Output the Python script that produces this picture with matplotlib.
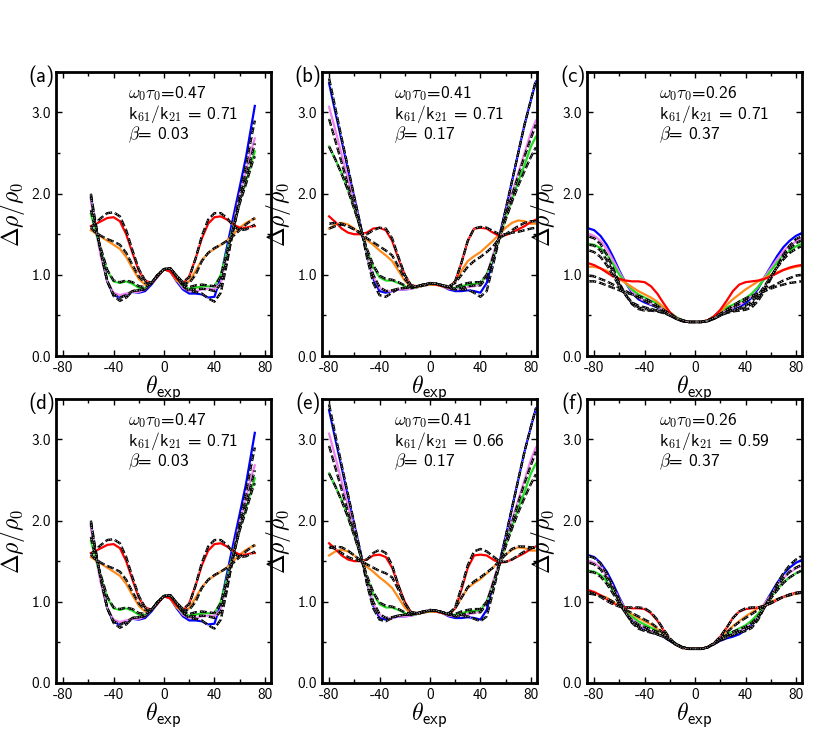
import matplotlib
matplotlib.use("Agg")
import matplotlib.pyplot as plt
from matplotlib.ticker import MultipleLocator

plt.rcParams["font.family"] = ["cmss10", "DejaVu Sans"]
plt.rcParams["mathtext.fontset"] = "cm"
plt.rcParams["axes.unicode_minus"] = False
plt.rcParams["axes.formatter.use_mathtext"] = False

# angle grids
th_a = [-58, -55, -50, -45, -40, -35, -30, -25, -20, -15, -10, -5, 0, 5, 10, 15, 20,
        25, 30, 35, 40, 45, 50, 55, 60, 65, 70, 72]
th_b = [-80, -75, -70, -65, -60, -55, -50, -45, -40, -35, -30, -25, -20, -15, -10, -5,
        0, 5, 10, 15, 20, 25, 30, 35, 40, 45, 50, 55, 60, 65, 70, 75, 80, 84]
th_c = [-84, -80, -75, -70, -65, -60, -55, -50, -45, -40, -35, -30, -25, -20, -15, -10,
        -5, 0, 5, 10, 15, 20, 25, 30, 35, 40, 45, 50, 55, 60, 65, 70, 75, 80, 84]

# panel (a) / (d)
a_blue = [1.95, 1.65, 1.25, 0.92, 0.75, 0.72, 0.76, 0.79, 0.78, 0.80, 0.88, 0.98, 1.07, 1.04,
          0.92, 0.82, 0.77, 0.77, 0.76, 0.72, 0.73, 0.98, 1.35, 1.72, 2.08, 2.45, 2.90, 3.08]
a_violet = [1.93, 1.62, 1.22, 0.92, 0.78, 0.75, 0.77, 0.79, 0.79, 0.82, 0.90, 0.99, 1.07, 1.05,
            0.94, 0.84, 0.80, 0.80, 0.82, 0.83, 0.82, 0.90, 1.25, 1.62, 1.98, 2.28, 2.58, 2.68]
a_green = [1.75, 1.58, 1.30, 1.05, 0.92, 0.90, 0.92, 0.89, 0.84, 0.84, 0.90, 1.00, 1.07, 1.05,
           0.95, 0.86, 0.83, 0.84, 0.86, 0.86, 0.86, 1.00, 1.30, 1.60, 1.90, 2.15, 2.42, 2.52]
a_orange = [1.55, 1.52, 1.47, 1.42, 1.37, 1.32, 1.22, 1.08, 0.95, 0.88, 0.90, 0.99, 1.07, 1.04,
            0.93, 0.88, 0.92, 1.05, 1.18, 1.27, 1.32, 1.37, 1.42, 1.50, 1.58, 1.64, 1.68, 1.69]
a_red = [1.60, 1.62, 1.66, 1.70, 1.71, 1.66, 1.50, 1.27, 1.05, 0.93, 0.90, 0.98, 1.07, 1.04,
         0.95, 0.90, 0.98, 1.20, 1.45, 1.63, 1.71, 1.72, 1.68, 1.62, 1.58, 1.58, 1.60, 1.60]
a_blue_fit = [2.00, 1.70, 1.28, 0.92, 0.74, 0.68, 0.72, 0.80, 0.81, 0.82, 0.90, 1.00, 1.07, 1.08,
              0.98, 0.86, 0.80, 0.79, 0.77, 0.71, 0.67, 0.78, 1.15, 1.58, 1.98, 2.35, 2.75, 2.90]
a_violet_fit = [1.98, 1.68, 1.27, 0.92, 0.76, 0.72, 0.75, 0.80, 0.81, 0.83, 0.90, 1.00, 1.07, 1.08,
                0.98, 0.87, 0.82, 0.82, 0.83, 0.82, 0.80, 0.88, 1.20, 1.55, 1.90, 2.20, 2.50, 2.62]
a_green_fit = [1.80, 1.60, 1.32, 1.06, 0.93, 0.91, 0.93, 0.91, 0.86, 0.85, 0.90, 1.00, 1.07, 1.08,
               0.99, 0.89, 0.85, 0.87, 0.88, 0.87, 0.86, 0.98, 1.28, 1.58, 1.88, 2.12, 2.38, 2.46]
a_orange_fit = [1.58, 1.53, 1.48, 1.44, 1.41, 1.37, 1.27, 1.12, 0.98, 0.90, 0.90, 0.99, 1.07, 1.08,
                0.98, 0.90, 0.90, 1.00, 1.17, 1.27, 1.33, 1.37, 1.42, 1.48, 1.55, 1.62, 1.68, 1.70]
a_red_fit = [1.58, 1.63, 1.70, 1.76, 1.77, 1.72, 1.55, 1.30, 1.07, 0.93, 0.90, 0.99, 1.07, 1.08,
             0.99, 0.91, 0.97, 1.20, 1.48, 1.68, 1.76, 1.76, 1.70, 1.60, 1.55, 1.56, 1.60, 1.62]

# panel (b) / (e) measured curves
b_blue = [3.36, 3.00, 2.65, 2.30, 1.95, 1.60, 1.25, 0.95, 0.80, 0.78, 0.80, 0.82, 0.82, 0.83, 0.85, 0.87, 0.88,
          0.88, 0.86, 0.82, 0.80, 0.80, 0.81, 0.80, 0.78, 0.90, 1.20, 1.48, 1.80, 2.15, 2.50, 2.85, 3.15, 3.38]
b_violet = [3.07, 2.78, 2.48, 2.18, 1.88, 1.58, 1.27, 0.98, 0.84, 0.80, 0.80, 0.82, 0.82, 0.83, 0.85, 0.87, 0.88,
            0.88, 0.86, 0.83, 0.82, 0.83, 0.85, 0.86, 0.88, 1.00, 1.25, 1.48, 1.75, 2.00, 2.25, 2.50, 2.75, 2.90]
b_green = [2.58, 2.42, 2.25, 2.05, 1.82, 1.57, 1.30, 1.10, 0.97, 0.93, 0.93, 0.90, 0.86, 0.84, 0.85, 0.87, 0.88,
           0.88, 0.86, 0.84, 0.84, 0.86, 0.88, 0.89, 0.90, 1.00, 1.20, 1.45, 1.70, 1.92, 2.15, 2.35, 2.58, 2.70]
b_orange = [1.57, 1.62, 1.64, 1.62, 1.57, 1.50, 1.43, 1.37, 1.30, 1.24, 1.17, 1.05, 0.93, 0.85, 0.85, 0.87, 0.88,
            0.88, 0.86, 0.85, 0.92, 1.05, 1.17, 1.23, 1.28, 1.35, 1.42, 1.50, 1.58, 1.64, 1.67, 1.66, 1.63, 1.63]
b_red = [1.72, 1.65, 1.57, 1.52, 1.50, 1.50, 1.52, 1.57, 1.58, 1.55, 1.42, 1.20, 1.00, 0.87, 0.86, 0.88, 0.89,
         0.88, 0.86, 0.84, 0.92, 1.15, 1.42, 1.57, 1.58, 1.57, 1.52, 1.48, 1.49, 1.52, 1.56, 1.60, 1.65, 1.68]
b_blue_fit = [3.42, 3.05, 2.68, 2.32, 1.96, 1.60, 1.22, 0.90, 0.75, 0.73, 0.78, 0.83, 0.84, 0.84, 0.86, 0.88, 0.89,
              0.89, 0.87, 0.84, 0.82, 0.82, 0.82, 0.78, 0.73, 0.80, 1.12, 1.45, 1.80, 2.15, 2.50, 2.85, 3.15, 3.40]
b_violet_fit = [2.92, 2.65, 2.38, 2.10, 1.84, 1.57, 1.28, 1.00, 0.85, 0.80, 0.81, 0.83, 0.84, 0.84, 0.86, 0.88, 0.89,
                0.89, 0.87, 0.84, 0.83, 0.84, 0.86, 0.87, 0.87, 0.97, 1.22, 1.47, 1.72, 1.97, 2.22, 2.46, 2.68, 2.85]
b_green_fit = [2.58, 2.42, 2.24, 2.04, 1.81, 1.57, 1.32, 1.12, 0.99, 0.95, 0.94, 0.91, 0.87, 0.85, 0.86, 0.88, 0.89,
               0.89, 0.87, 0.85, 0.85, 0.88, 0.90, 0.91, 0.91, 1.00, 1.20, 1.45, 1.68, 1.90, 2.10, 2.28, 2.45, 2.57]
b_orange_fit = [1.57, 1.60, 1.62, 1.60, 1.56, 1.51, 1.45, 1.40, 1.35, 1.30, 1.24, 1.10, 0.95, 0.86, 0.85, 0.87, 0.89,
                0.89, 0.87, 0.86, 0.90, 1.00, 1.10, 1.17, 1.22, 1.28, 1.35, 1.45, 1.50, 1.52, 1.53, 1.55, 1.57, 1.58]
b_red_fit = [1.63, 1.64, 1.63, 1.60, 1.56, 1.52, 1.50, 1.55, 1.58, 1.57, 1.45, 1.22, 1.00, 0.87, 0.86, 0.88, 0.90,
             0.89, 0.87, 0.85, 0.92, 1.15, 1.42, 1.57, 1.59, 1.58, 1.54, 1.50, 1.50, 1.55, 1.60, 1.64, 1.66, 1.66]
e_blue_fit = [3.43, 3.05, 2.68, 2.32, 1.96, 1.60, 1.22, 0.92, 0.78, 0.76, 0.80, 0.83, 0.84, 0.84, 0.86, 0.88, 0.89,
              0.89, 0.87, 0.84, 0.82, 0.82, 0.82, 0.79, 0.76, 0.82, 1.12, 1.45, 1.80, 2.15, 2.50, 2.85, 3.15, 3.38]
e_violet_fit = [2.92, 2.65, 2.38, 2.10, 1.84, 1.57, 1.28, 1.00, 0.85, 0.80, 0.81, 0.83, 0.84, 0.84, 0.86, 0.88, 0.89,
                0.89, 0.87, 0.84, 0.83, 0.84, 0.86, 0.87, 0.87, 0.97, 1.22, 1.47, 1.72, 1.97, 2.22, 2.46, 2.68, 2.85]
e_green_fit = [2.58, 2.42, 2.24, 2.04, 1.81, 1.57, 1.32, 1.12, 0.99, 0.95, 0.94, 0.91, 0.87, 0.85, 0.86, 0.88, 0.89,
               0.89, 0.87, 0.85, 0.85, 0.88, 0.90, 0.91, 0.91, 1.00, 1.20, 1.45, 1.68, 1.90, 2.10, 2.28, 2.45, 2.57]
e_orange_fit = [1.66, 1.68, 1.67, 1.63, 1.57, 1.51, 1.46, 1.42, 1.38, 1.35, 1.30, 1.15, 0.98, 0.87, 0.85, 0.87, 0.89,
                0.89, 0.87, 0.86, 0.92, 1.05, 1.18, 1.25, 1.30, 1.36, 1.42, 1.50, 1.58, 1.65, 1.68, 1.68, 1.67, 1.66]
e_red_fit = [1.68, 1.65, 1.60, 1.55, 1.52, 1.50, 1.52, 1.60, 1.64, 1.60, 1.45, 1.20, 0.98, 0.87, 0.86, 0.88, 0.90,
             0.89, 0.87, 0.85, 0.93, 1.18, 1.45, 1.62, 1.65, 1.62, 1.56, 1.50, 1.49, 1.52, 1.57, 1.62, 1.66, 1.68]

# panel (c) / (f)
c_blue = [1.57, 1.55, 1.48, 1.37, 1.22, 1.05, 0.90, 0.78, 0.70, 0.66, 0.63, 0.60, 0.57, 0.52, 0.47, 0.44, 0.42, 0.42,
          0.42, 0.44, 0.48, 0.52, 0.55, 0.57, 0.60, 0.65, 0.72, 0.83, 0.97, 1.10, 1.23, 1.34, 1.42, 1.48, 1.51]
c_violet = [1.50, 1.48, 1.42, 1.32, 1.18, 1.03, 0.90, 0.80, 0.72, 0.68, 0.64, 0.61, 0.57, 0.52, 0.47, 0.44, 0.42, 0.42,
            0.42, 0.44, 0.48, 0.53, 0.57, 0.60, 0.63, 0.68, 0.75, 0.85, 0.97, 1.08, 1.19, 1.29, 1.36, 1.41, 1.44]
c_green = [1.38, 1.37, 1.33, 1.25, 1.13, 1.00, 0.90, 0.82, 0.76, 0.72, 0.68, 0.65, 0.60, 0.54, 0.48, 0.44, 0.42, 0.42,
           0.42, 0.44, 0.49, 0.55, 0.60, 0.63, 0.67, 0.71, 0.77, 0.85, 0.95, 1.05, 1.15, 1.24, 1.30, 1.35, 1.38]
c_orange = [1.10, 1.10, 1.08, 1.05, 1.00, 0.95, 0.90, 0.85, 0.80, 0.76, 0.72, 0.67, 0.60, 0.53, 0.47, 0.44, 0.42, 0.42,
            0.42, 0.44, 0.48, 0.55, 0.63, 0.70, 0.76, 0.82, 0.87, 0.92, 0.96, 1.00, 1.03, 1.06, 1.08, 1.10, 1.11]
c_red = [1.14, 1.12, 1.08, 1.03, 0.98, 0.95, 0.93, 0.92, 0.92, 0.91, 0.86, 0.77, 0.65, 0.54, 0.47, 0.43, 0.42, 0.42,
         0.42, 0.44, 0.49, 0.57, 0.68, 0.80, 0.88, 0.91, 0.92, 0.93, 0.95, 0.98, 1.02, 1.06, 1.09, 1.11, 1.12]
c_blue_fit = [1.47, 1.45, 1.38, 1.25, 1.08, 0.90, 0.75, 0.64, 0.58, 0.56, 0.56, 0.55, 0.53, 0.50, 0.46, 0.43, 0.42, 0.42,
              0.42, 0.43, 0.46, 0.50, 0.53, 0.55, 0.56, 0.57, 0.60, 0.68, 0.80, 0.95, 1.10, 1.25, 1.36, 1.44, 1.47]
c_violet_fit = [1.37, 1.36, 1.30, 1.18, 1.04, 0.88, 0.75, 0.65, 0.60, 0.58, 0.57, 0.56, 0.54, 0.50, 0.46, 0.43, 0.42, 0.42,
                0.42, 0.43, 0.46, 0.50, 0.54, 0.56, 0.58, 0.60, 0.64, 0.72, 0.84, 0.97, 1.10, 1.22, 1.32, 1.39, 1.42]
c_green_fit = [1.30, 1.28, 1.22, 1.12, 0.99, 0.86, 0.75, 0.66, 0.62, 0.60, 0.58, 0.56, 0.54, 0.50, 0.46, 0.43, 0.42, 0.42,
               0.42, 0.43, 0.46, 0.50, 0.54, 0.57, 0.59, 0.62, 0.67, 0.75, 0.86, 0.98, 1.09, 1.19, 1.27, 1.32, 1.35]
c_orange_fit = [0.99, 0.98, 0.95, 0.92, 0.88, 0.84, 0.80, 0.76, 0.72, 0.68, 0.64, 0.60, 0.56, 0.52, 0.47, 0.44, 0.42, 0.42,
                0.42, 0.44, 0.47, 0.52, 0.56, 0.60, 0.64, 0.68, 0.72, 0.76, 0.80, 0.85, 0.89, 0.93, 0.96, 0.99, 1.00]
c_red_fit = [0.92, 0.92, 0.90, 0.87, 0.84, 0.81, 0.78, 0.76, 0.74, 0.71, 0.67, 0.62, 0.57, 0.52, 0.47, 0.44, 0.42, 0.42,
             0.42, 0.44, 0.47, 0.52, 0.57, 0.62, 0.67, 0.71, 0.74, 0.77, 0.80, 0.83, 0.86, 0.88, 0.90, 0.91, 0.92]
f_blue_fit = [1.56, 1.54, 1.47, 1.35, 1.19, 1.02, 0.86, 0.74, 0.67, 0.64, 0.62, 0.60, 0.57, 0.52, 0.47, 0.44, 0.42, 0.42,
              0.42, 0.44, 0.48, 0.52, 0.56, 0.59, 0.62, 0.64, 0.68, 0.78, 0.93, 1.08, 1.22, 1.35, 1.45, 1.52, 1.56]
f_violet_fit = [1.48, 1.46, 1.40, 1.29, 1.15, 1.00, 0.86, 0.75, 0.69, 0.66, 0.63, 0.60, 0.57, 0.52, 0.47, 0.44, 0.42, 0.42,
                0.42, 0.44, 0.48, 0.53, 0.57, 0.60, 0.63, 0.66, 0.71, 0.80, 0.93, 1.06, 1.18, 1.29, 1.37, 1.42, 1.45]
f_green_fit = [1.37, 1.36, 1.31, 1.22, 1.10, 0.97, 0.86, 0.77, 0.72, 0.69, 0.66, 0.63, 0.59, 0.53, 0.48, 0.44, 0.42, 0.42,
               0.42, 0.44, 0.49, 0.54, 0.59, 0.63, 0.66, 0.69, 0.74, 0.82, 0.93, 1.04, 1.14, 1.23, 1.30, 1.35, 1.38]
f_orange_fit = [1.10, 1.09, 1.07, 1.04, 1.00, 0.95, 0.90, 0.86, 0.82, 0.78, 0.74, 0.68, 0.61, 0.54, 0.48, 0.44, 0.42, 0.42,
                0.42, 0.44, 0.48, 0.55, 0.62, 0.69, 0.75, 0.80, 0.85, 0.90, 0.95, 0.99, 1.03, 1.06, 1.08, 1.10, 1.11]
f_red_fit = [1.12, 1.10, 1.06, 1.01, 0.97, 0.94, 0.93, 0.93, 0.93, 0.92, 0.87, 0.78, 0.66, 0.55, 0.47, 0.43, 0.42, 0.42,
             0.42, 0.44, 0.49, 0.57, 0.68, 0.80, 0.88, 0.92, 0.93, 0.93, 0.95, 0.98, 1.02, 1.06, 1.09, 1.11, 1.12]

labels = ["(a)", "(b)", "(c)", "(d)", "(e)", "(f)"]
wt = ["0.47", "0.41", "0.26", "0.47", "0.41", "0.26"]
kratio = ["0.71", "0.71", "0.71", "0.71", "0.66", "0.59"]
beta = ["0.03", "0.17", "0.37", "0.03", "0.17", "0.37"]

colors = ["#0000ff", "#ee82ee", "#22dd22", "#ff8c1a", "#ff0000"]

panels = [
    (th_a, [a_blue, a_violet, a_green, a_orange, a_red],
     [a_blue_fit, a_violet_fit, a_green_fit, a_orange_fit, a_red_fit]),
    (th_b, [b_blue, b_violet, b_green, b_orange, b_red],
     [b_blue_fit, b_violet_fit, b_green_fit, b_orange_fit, b_red_fit]),
    (th_c, [c_blue, c_violet, c_green, c_orange, c_red],
     [c_blue_fit, c_violet_fit, c_green_fit, c_orange_fit, c_red_fit]),
    (th_a, [a_blue, a_violet, a_green, a_orange, a_red],
     [a_blue_fit, a_violet_fit, a_green_fit, a_orange_fit, a_red_fit]),
    (th_b, [b_blue, b_violet, b_green, b_orange, b_red],
     [e_blue_fit, e_violet_fit, e_green_fit, e_orange_fit, e_red_fit]),
    (th_c, [c_blue, c_violet, c_green, c_orange, c_red],
     [f_blue_fit, f_violet_fit, f_green_fit, f_orange_fit, f_red_fit]),
]

fig = plt.figure(figsize=(8.17, 7.56), dpi=100)
lefts = [0.0685, 0.394, 0.7185]
bottoms = [0.529, 0.0966]
w, h = 0.263, 0.376

for i, (th, data, fits) in enumerate(panels):
    ax = fig.add_axes([lefts[i % 3], bottoms[i // 3], w, h])
    for y, c in zip(data, colors):
        ax.plot(th, y, color=c, lw=1.6)
    for y in fits:
        ax.plot(th, y, color="black", lw=1.7, dashes=(3, 1.2))
        ax.plot(th, y, color="white", lw=0.45, dashes=(1.5, 2.5))
    ax.set_xlim(-85.7, 84.7)
    ax.set_ylim(0, 3.5)
    ax.set_xticks([-80, -40, 0, 40, 80])
    ax.set_yticks([0, 1, 2, 3])
    ax.set_yticklabels(["0.0", "1.0", "2.0", "3.0"])
    ax.xaxis.set_minor_locator(MultipleLocator(20))
    ax.yaxis.set_minor_locator(MultipleLocator(0.5))
    ax.tick_params(which="both", direction="in", top=True, right=True, labelsize=11)
    ax.tick_params(which="major", length=4, width=1)
    ax.tick_params(which="minor", length=3, width=1)
    for s in ax.spines.values():
        s.set_linewidth(2)
    ax.set_xlabel(r"$\theta_{\mathsf{exp}}$", fontsize=17, labelpad=-1)
    ax.set_ylabel(r"$\Delta\rho/\rho_0$", fontsize=17, labelpad=3)
    ax.text(-0.065, 0.985, labels[i], transform=ax.transAxes, fontsize=15,
            ha="center", va="center")
    txt = (r"$\omega_0\tau_0$=" + wt[i] + "\n" + r"k$_{\mathsf{61}}$/k$_{\mathsf{21}}$ = " + kratio[i]
           + "\n" + r"$\beta$= " + beta[i])
    ax.text(0.335, 0.958, txt, transform=ax.transAxes, fontsize=12.5,
            ha="left", va="top", linespacing=1.0)

fig.savefig("out.png", dpi=100)
